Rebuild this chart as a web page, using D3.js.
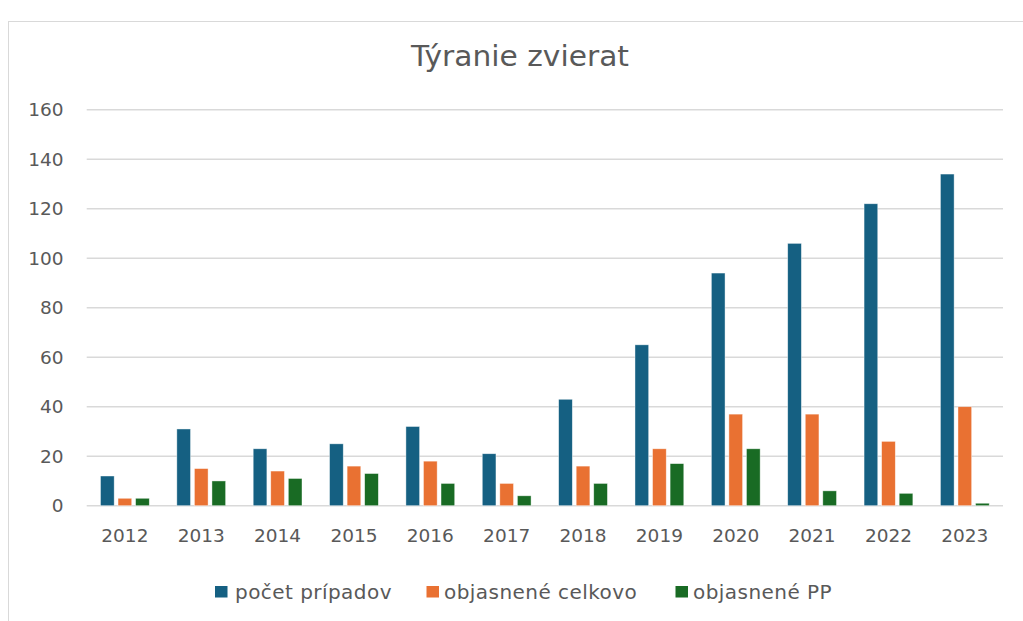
<!DOCTYPE html>
<html><head><meta charset="utf-8">
<script src="https://cdn.jsdelivr.net/npm/d3@7"></script>
<style>body{margin:0;background:#fff}svg text{font-family:"DejaVu Sans","Liberation Sans",Arial,sans-serif;fill:#595959}</style>
</head><body><svg id="c" width="1023" height="621"></svg>
<script>
const categories = ["2012","2013","2014","2015","2016","2017","2018","2019","2020","2021","2022","2023"];
const pocetPripadov = [12,31,23,25,32,21,43,65,94,106,122,134];
const objasneneCelkovo = [3,15,14,16,18,9,16,23,37,37,26,40];
const objasnenePP = [3,10,11,13,9,4,9,17,23,6,5,1];
const yTicks = [0,20,40,60,80,100,120,140,160];
const seriesNames = ["počet prípadov","objasnené celkovo","objasnené PP"];
const colors = ["#156082","#E97132","#196B24"];
const series = [pocetPripadov, objasneneCelkovo, objasnenePP];

const svg = d3.select("#c");
svg.append("rect").attr("x",8.5).attr("y",21.5).attr("width",1030).attr("height",620)
  .attr("fill","#fff").attr("stroke","#d9d9d9");

const x0 = d3.scaleBand().domain(categories).range([86.7,1003]).paddingInner(0).paddingOuter(0);
const y = d3.scaleLinear().domain([0,160]).range([505.7,109.7]);
const x1 = d3.scaleBand().domain([0,1,2]).range([x0.bandwidth()/2-24.4, x0.bandwidth()/2+24.4]).paddingInner(0.22);

// gridlines
svg.append("g").selectAll("line").data(yTicks).join("line")
  .attr("x1",86.7).attr("x2",1003).attr("y1",d=>y(d)).attr("y2",d=>y(d))
  .attr("stroke","#d9d9d9").attr("stroke-width",1.5);

// y labels
const yAxis = d3.axisLeft(y).tickValues(yTicks).tickSize(0).tickPadding(0);
const ga = svg.append("g").attr("transform","translate(63.5,0)").call(yAxis);
ga.select(".domain").remove();
ga.selectAll("text").attr("font-size",18.5).attr("font-family",null).style("fill","#595959").attr("dy","0.33em");

// bars
const g = svg.append("g");
series.forEach((s,i)=>{
  g.append("g").selectAll("rect").data(s).join("rect")
    .attr("x",(d,j)=>x0(categories[j])+x1(i))
    .attr("width",x1.bandwidth())
    .attr("y",d=>y(d)).attr("height",d=>y(0)-y(d))
    .attr("fill",colors[i]).attr("stroke","rgba(255,255,255,0.6)").attr("stroke-width",0.7);
});

// x labels
const xAxis = d3.axisBottom(x0).tickSize(0).tickPadding(0);
const gx = svg.append("g").attr("transform","translate(0,536)").call(xAxis);
gx.select(".domain").remove();
gx.selectAll("text").attr("font-size",18.5).attr("font-family",null).attr("dy","0.35em").style("fill","#595959");

// title
svg.append("text").attr("x",520).attr("y",66).attr("text-anchor","middle")
  .attr("font-size",28).attr("textLength",218).attr("lengthAdjust","spacingAndGlyphs").text("Týranie zvierat");

// legend
const legX = [215,426.5,675.5];
const legT = [235,444,693];
const lg = svg.append("g");
seriesNames.forEach((n,i)=>{
  lg.append("rect").attr("x",legX[i]).attr("y",586).attr("width",12.5).attr("height",11.5).attr("fill",colors[i]);
  lg.append("text").attr("x",legT[i]).attr("y",592).attr("dy","0.35em").attr("font-size",20)
    .attr("letter-spacing",0.45).text(n);
});
</script></body></html>
